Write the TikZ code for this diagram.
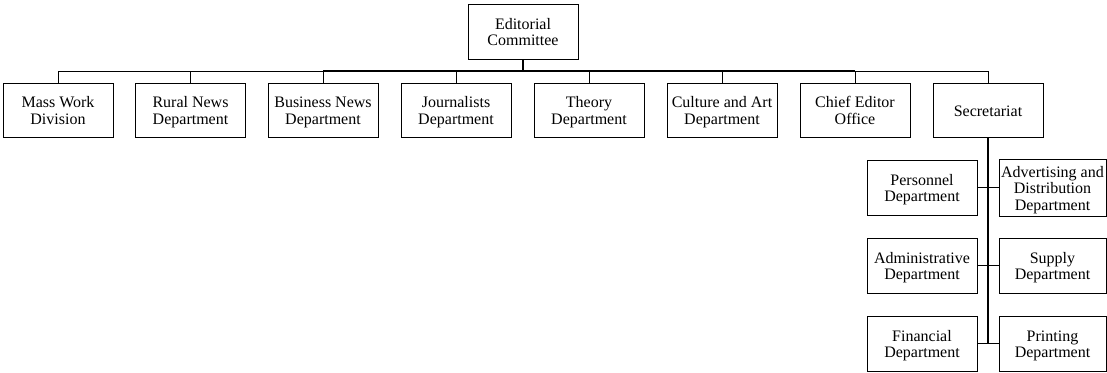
\documentclass[tikz,border=0pt]{standalone}
\usepackage{fontspec}
\setmainfont{Liberation Serif}
% extra height on the first line so the text block sits a little lower in its box
\newcommand{\firstln}{\rule{0pt}{17pt}}
\begin{document}
\begin{tikzpicture}[x=1pt,y=-1pt,
  unit/.style={draw, line width=0.9pt, align=center, inner sep=1pt,
    minimum width=110pt, minimum height=54pt,
    font=\fontsize{16}{16.5}\selectfont},
  subunit/.style={unit, minimum height=55pt},
  link/.style={line width=0.8pt},
  mainlink/.style={line width=1.8pt}]
\useasboundingbox (0,0) rectangle (1107,372);

% head of the organisation
\node[unit, minimum height=55pt] (ed) at (523,31.5) {\firstln Editorial\\Committee\strut};

% first level departments
\node[unit] (d1) at (58,110)  {\firstln Mass Work\\Division\strut};
\node[unit] (d2) at (190.5,110) {\firstln Rural News\\Department\strut};
\node[unit] (d3) at (323,110) {\firstln Business News\\Department\strut};
\node[unit] (d4) at (456,110) {\firstln Journalists\\Department\strut};
\node[unit] (d5) at (589,110) {\firstln Theory\\Department\strut};
\node[unit] (d6) at (722,110) {\firstln Culture and Art\\Department\strut};
\node[unit] (d7) at (855,110) {\firstln Chief Editor\\Office\strut};
\node[unit] (d8) at (988,110) {\firstln Secretariat\strut};

% departments under the secretariat
\node[subunit] (p1) at (922,187.5) {\firstln Personnel\\Department\strut};
\node[subunit, minimum width=107pt] (p2) at (1052.5,187.5) {\firstln Advertising and\\Distribution\\Department\strut};
\node[subunit] (a1) at (922,265.5) {\firstln Administrative\\Department\strut};
\node[subunit, minimum width=107pt] (a2) at (1052.5,265.5) {\firstln Supply\\Department\strut};
\node[subunit] (f1) at (922,343.5) {\firstln Financial\\Department\strut};
\node[subunit, minimum width=107pt] (f2) at (1052.5,343.5) {\firstln Printing\\Department\strut};

% horizontal bus
\coordinate (busL) at (58,71);
\coordinate (busR) at (988,71);
\coordinate (busA) at (323,71);
\coordinate (busB) at (855,71);
\draw[link] (busL) -- (busR);
\draw[mainlink] (busA) -- (busB);
\draw[mainlink] (ed.south) -- (ed.south |- busL);
\foreach \n in {d1,d2,d3,d4,d5,d6,d7,d8}
  \draw[link] (\n.north) -- (\n.north |- busL);

% secretariat spine and branches
\coordinate (spineEnd) at (988,343.5);
\draw[mainlink] (d8.south) -- (spineEnd);
\draw[link] (p1.east) -- (p2.west);
\draw[link] (a1.east) -- (a2.west);
\draw[link] (f1.east) -- (f2.west);
\end{tikzpicture}
\end{document}
